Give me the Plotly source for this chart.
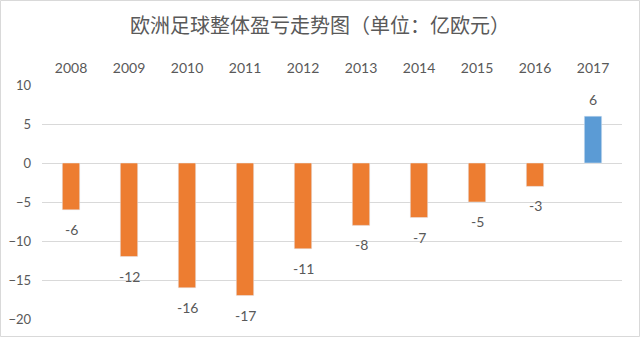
import plotly.graph_objects as go

years = ["2008", "2009", "2010", "2011", "2012", "2013", "2014", "2015", "2016", "2017"]
values = [-6, -12, -16, -17, -11, -8, -7, -5, -3, 6]
y_ticks = [-20, -15, -10, -5, 0, 5, 10]
title_text = "欧洲足球整体盈亏走势图（单位：亿欧元）"

colors = ["#5B9BD5" if v > 0 else "#ED7D31" for v in values]

W, H = 640, 337
ml, mr, mt, mb = 42, 18, 85, 18

fig = go.Figure(go.Bar(
    x=years, y=values, marker_color=colors, width=0.3,
    cliponaxis=False,
))

# category axis: annotation x given as category index
for i, v in enumerate(values):
    fig.add_annotation(
        x=i, y=v, xref="x", yref="y", text=str(v), showarrow=False,
        yanchor="top" if v < 0 else "bottom",
        yshift=-9 if v < 0 else 6,
        font=dict(family="Lato, Noto Sans", size=14, color="#595959"),
    )

fig.update_layout(
    width=W, height=H,
    margin=dict(l=ml, r=mr, t=mt, b=mb, autoexpand=False),
    paper_bgcolor="white", plot_bgcolor="white",
    showlegend=False,
    title=dict(text=title_text, x=0.5, xanchor="center", y=1 - 26 / H, yanchor="middle",
               font=dict(family="Noto Sans CJK SC", size=20, color="#595959")),
    xaxis=dict(type="category", categoryorder="array", categoryarray=years,
               range=[-0.5, len(years) - 0.5],
               side="top", showgrid=False, showline=False, zeroline=False,
               tickfont=dict(family="Lato, Noto Sans", size=14, color="#595959"),
               ticks="", ticklabelstandoff=8, automargin=False),
    yaxis=dict(range=[-20, 10], tickvals=y_ticks, showgrid=True, gridcolor="#D9D9D9",
               gridwidth=1, zeroline=True, zerolinecolor="#D9D9D9", zerolinewidth=1,
               showline=False, ticks="", automargin=False,
               tickfont=dict(family="Lato, Noto Sans", size=13, color="#595959"),
               ticklabelstandoff=10),
    shapes=[dict(type="rect", xref="paper", yref="paper",
                 x0=-(ml - 0.5) / (W - ml - mr), x1=1 + (mr - 0.5) / (W - ml - mr),
                 y0=-(mb - 0.5) / (H - mt - mb), y1=1 + (mt - 0.5) / (H - mt - mb),
                 line=dict(color="#D9D9D9", width=1))],
)

fig.write_html("out.html")
